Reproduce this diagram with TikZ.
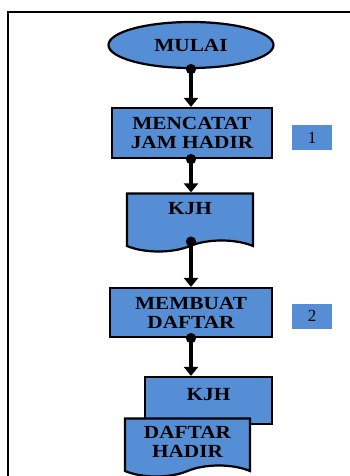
\documentclass[tikz,border=0pt]{standalone}
\usepackage{fontspec}
\setmainfont{Liberation Serif}
\newfontfamily\flowfont[FakeStretch=1.15]{Liberation Serif}
\usetikzlibrary{shapes.geometric,shapes.symbols,arrows.meta}
\definecolor{birumuda}{HTML}{558ED5}
\begin{document}
\begin{tikzpicture}[x=1pt,y=-1pt]
        \tikzstyle{terminal}=[ellipse,draw=black,line width=2.2pt,fill=birumuda,minimum width=165pt,minimum height=46pt,font=\flowfont\fontsize{18.5}{19}\selectfont\bfseries]
        \tikzstyle{proses}=[rectangle,draw=black,line width=2.2pt,fill=birumuda,align=center,font=\flowfont\fontsize{18.5}{19}\selectfont\bfseries]
        \tikzstyle{dokumen}=[tape,tape bend top=none,tape bend height=11pt,draw=black,line width=2.2pt,fill=birumuda,align=center,font=\flowfont\fontsize{18.5}{19}\selectfont\bfseries]
        \tikzstyle{nomor}=[rectangle,fill=birumuda,minimum width=40pt,minimum height=25pt,font=\fontsize{17}{19}\selectfont]
        \tikzstyle{alur}=[draw,line width=3.8pt,shorten <=-5pt,{Circle[length=10pt,width=10pt]}-{Triangle[length=9pt,width=14pt]}]
        \useasboundingbox (0,0) rectangle (350,476);
        % bingkai
        \draw[line width=2.2pt] (8,476) -- (8,12) -- (350,12);
        \begin{scope}
            \node [terminal] (mulai) at (191,45) {MULAI};
            \node [proses,minimum width=160pt,minimum height=50pt] (catat) at (192,133) {MENCATAT\\JAM HADIR};
            \node [nomor] (n1) at (312,137.5) {1};
            \node [dokumen,minimum width=126pt,minimum height=58pt,text height=12pt,text depth=18pt] (kjh) at (190,217) {KJH};
            \node [proses,minimum width=162pt,minimum height=49pt] (buat) at (191,312.5) {MEMBUAT\\DAFTAR};
            \node [nomor] (n2) at (312,316) {2};
            \node [proses,minimum width=127pt,minimum height=47pt,text height=12pt,text depth=12pt] (kjhb) at (208.5,400.5) {KJH};
            \node [dokumen,minimum width=125pt,minimum height=58pt] (daftar) at (187.5,442) {DAFTAR\\HADIR};
            \path[alur] (mulai.south) -- (mulai.south |- catat.north);
            \path[alur] (mulai.south |- catat.south) -- (mulai.south |- kjh.north);
            \path[alur] (mulai.south |- kjh.south) -- (mulai.south |- buat.north);
            \path[alur] (mulai.south |- buat.south) -- (mulai.south |- kjhb.north);
        \end{scope}
\end{tikzpicture}
\end{document}
